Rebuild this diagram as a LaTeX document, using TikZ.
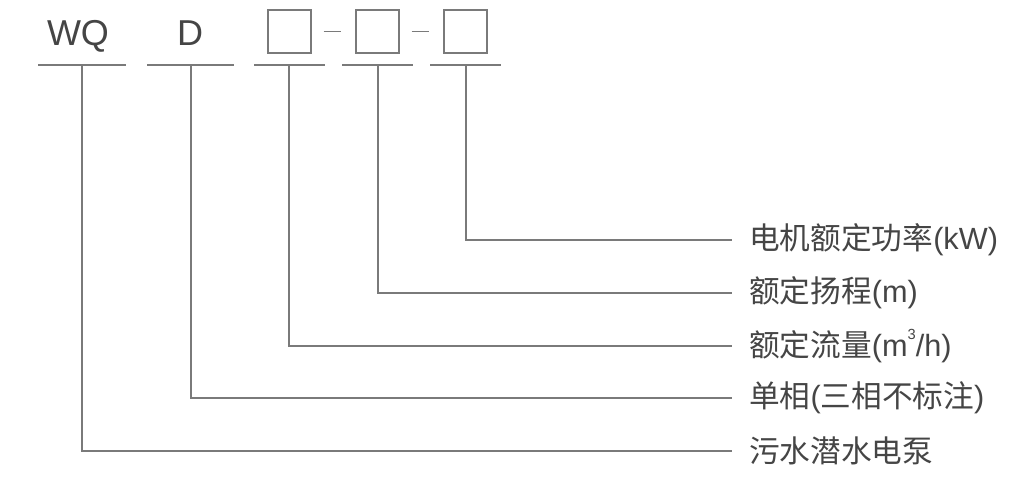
\documentclass[tikz,border=0pt]{standalone}
\usepackage{fontspec}
\setmainfont{Noto Sans CJK SC}
\newfontfamily\latinf{Liberation Sans}
\newcommand{\lt}[1]{{\latinf #1}}
\newcommand{\supthree}{\raisebox{0.55em}{\latinf\fontsize{11}{11}\selectfont 3}}
\definecolor{txt}{HTML}{454545}
\definecolor{ln}{HTML}{7A7A7A}
\begin{document}
\begin{tikzpicture}[x=0.75pt,y=-0.75pt,
  ln/.style={draw=ln,line width=1.1pt},
  code/.style={font=\latinf\fontsize{27}{27}\selectfont,text=txt,inner sep=0pt,anchor=base},
  box/.style={draw=ln,line width=1.1pt,minimum size=32.25pt,inner sep=0pt},
  lab/.style={anchor=west,font=\fontsize{23}{23}\selectfont,text=txt,inner xsep=12.75pt,inner ysep=0pt}]
\useasboundingbox[fill=white] (0,0) rectangle (1024,480);
\node[code] (wq) at (78,45) {WQ};
\node[code] (d) at (190,45) {D};
\node[box] (b1) at (289.5,31.5) {};
\node[box] (b2) at (377.5,31.5) {};
\node[box] (b3) at (465.5,31.5) {};
\draw[ln] ([xshift=9pt]b1.east) -- ([xshift=-10.5pt]b2.west);
\draw[ln] ([xshift=9pt]b2.east) -- ([xshift=-10.5pt]b3.west);
% underlines
\draw[ln] (38,65) -- (126,65);
\draw[ln] (147,65) -- (234,65);
\draw[ln] (254,65) -- (325,65);
\draw[ln] (342,65) -- (413,65);
\draw[ln] (430,65) -- (501,65);
\coordinate (u1) at (82,65);
\coordinate (u2) at (191,65);
\coordinate (u3) at (289,65);
\coordinate (u4) at (378,65);
\coordinate (u5) at (466,65);
% labels
\node[lab] (l5) at (732,240) {电机额定功率\lt{(kW)}};
\node[lab] (l4) at (732,293) {额定扬程\lt{(m)}};
\node[lab] (l3) at (732,346) {额定流量\lt{(m}\supthree\lt{/h)}};
\node[lab] (l2) at (732,398) {单相\lt{(}三相不标注\lt{)}};
\node[lab] (l1) at (732,451) {污水潜水电泵};
\draw[ln] (u1) |- (l1.west);
\draw[ln] (u2) |- (l2.west);
\draw[ln] (u3) |- (l3.west);
\draw[ln] (u4) |- (l4.west);
\draw[ln] (u5) |- (l5.west);
\end{tikzpicture}
\end{document}
